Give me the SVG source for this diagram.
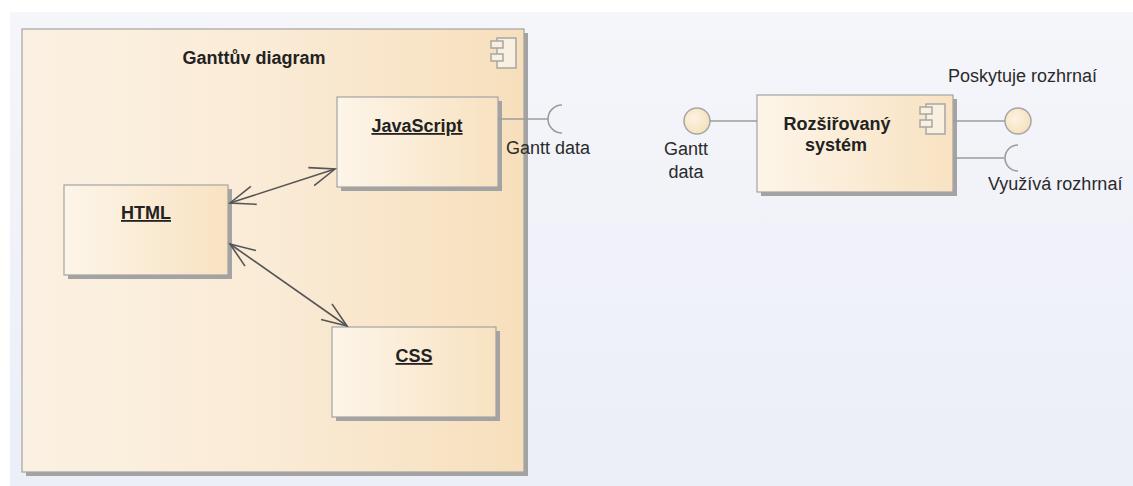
<svg xmlns="http://www.w3.org/2000/svg" width="1133" height="486" viewBox="0 0 1133 486">
  <defs>
    <linearGradient id="bg" x1="0" y1="0" x2="0" y2="1">
      <stop offset="0" stop-color="#f5f6fa"/>
      <stop offset="1" stop-color="#eceef8"/>
    </linearGradient>
    <linearGradient id="outerFill" x1="0" y1="0" x2="1" y2="0">
      <stop offset="0" stop-color="#fbf1e2"/>
      <stop offset="0.5" stop-color="#faebd6"/>
      <stop offset="1" stop-color="#f7dfbc"/>
    </linearGradient>
    <linearGradient id="partFill" x1="0" y1="0" x2="1" y2="0">
      <stop offset="0" stop-color="#fdf5e9"/>
      <stop offset="1" stop-color="#f8e2c1"/>
    </linearGradient>
    <radialGradient id="ballFill" cx="0.4" cy="0.4" r="0.7">
      <stop offset="0" stop-color="#fdf3e2"/>
      <stop offset="1" stop-color="#f5deb8"/>
    </radialGradient>
    <marker id="open" markerWidth="30" markerHeight="24" refX="28" refY="12" orient="auto-start-reverse" markerUnits="userSpaceOnUse" overflow="visible">
      <path d="M3,2.5 L28,12 L3,21.5" fill="none" stroke="#555" stroke-width="1.6"/>
    </marker>
    <!-- UML component stereotype icon, anchored at its top-right corner -->
    <g id="compIcon" fill="none" stroke="#a6a6a6" stroke-width="1.5">
      <rect x="-19" y="0" width="19" height="30" fill="#faf0df"/>
      <rect x="-25" y="3" width="12" height="7" fill="#faf0df"/>
      <rect x="-25" y="16" width="12" height="7" fill="#faf0df"/>
    </g>
  </defs>
  <style>
    .shadow { fill: #a3a3a3; }
    .box { stroke: #a3a3a3; stroke-width: 1.2; }
    .title { font-family: "Liberation Sans", Arial, sans-serif; font-size: 18px; font-weight: bold; fill: #222; }
    .part { font-family: "Liberation Sans", Arial, sans-serif; font-size: 18px; font-weight: bold; fill: #222; text-decoration: underline; }
    .label { font-family: "Liberation Sans", Arial, sans-serif; font-size: 18px; fill: #2a2a2a; }
    .iface { fill: none; stroke: #9c9c9c; stroke-width: 1.6; }
    .assoc { fill: none; stroke: #555; stroke-width: 1.6; }
  </style>

  <!-- canvas -->
  <rect x="0" y="0" width="1133" height="486" fill="#ffffff"/>
  <rect x="10" y="12" width="1123" height="474" fill="url(#bg)"/>

  <!-- Ganttův diagram component -->
  <g id="gantt-diagram">
    <rect class="shadow" x="26" y="33" width="502" height="443"/>
    <rect class="box" x="22" y="29" width="502" height="443" fill="url(#outerFill)"/>
    <use href="#compIcon" x="516" y="38"/>
    <text class="title" x="254" y="64" text-anchor="middle">Ganttův diagram</text>
  </g>

  <g id="javascript">
    <rect class="shadow" x="341" y="101" width="161" height="90"/>
    <rect class="box" x="337" y="97" width="161" height="90" fill="url(#partFill)"/>
    <text class="part" x="417" y="132" text-anchor="middle">JavaScript</text>
  </g>

  <g id="html">
    <rect class="shadow" x="68" y="189" width="164" height="90"/>
    <rect class="box" x="64" y="185" width="164" height="90" fill="url(#partFill)"/>
    <text class="part" x="146" y="219" text-anchor="middle">HTML</text>
  </g>

  <g id="css">
    <rect class="shadow" x="336" y="331" width="164" height="90"/>
    <rect class="box" x="332" y="327" width="164" height="90" fill="url(#partFill)"/>
    <text class="part" x="414" y="362" text-anchor="middle">CSS</text>
  </g>

  <!-- Rozšiřovaný systém component -->
  <g id="extended-system">
    <rect class="shadow" x="761" y="99" width="196" height="97"/>
    <rect class="box" x="757" y="95" width="196" height="97" fill="url(#partFill)"/>
    <use href="#compIcon" x="945" y="104"/>
    <text class="title" x="837" y="130" text-anchor="middle">Rozšiřovaný</text>
    <text class="title" x="836" y="151" text-anchor="middle">systém</text>
  </g>

  <!-- interfaces -->
  <g id="gantt-data-required">
    <text class="label" x="506" y="154">Gantt data</text>
  </g>
  <g id="gantt-data-provided">
    <circle cx="697" cy="121" r="13" fill="url(#ballFill)" stroke="#a6a6a6" stroke-width="1.5"/>
    <text class="label" x="686" y="155" text-anchor="middle">Gantt</text>
    <text class="label" x="686" y="178" text-anchor="middle">data</text>
  </g>
  <g id="provided-interface">
    <circle cx="1018" cy="121" r="13" fill="url(#ballFill)" stroke="#a6a6a6" stroke-width="1.5"/>
    <text class="label" x="948" y="82">Poskytuje rozhrnaí</text>
  </g>
  <g id="required-interface">
    <text class="label" x="988" y="190">Využívá rozhrnaí</text>
  </g>

  <!-- connectors -->
  <g id="connectors">
    <path class="iface" d="M498,119 H548"/>
    <path class="iface" d="M562,105 A14,14 0 0 0 562,133"/>
    <path class="iface" d="M710,121 H757"/>
    <path class="iface" d="M953,121 H1005"/>
    <path class="iface" d="M953,158 H1004"/>
    <path class="iface" d="M1018,145 A13,13 0 0 0 1018,171"/>
    <path class="assoc" d="M230,203 L335,169" marker-start="url(#open)" marker-end="url(#open)"/>
    <path class="assoc" d="M230,244 L347,326" marker-start="url(#open)" marker-end="url(#open)"/>
  </g>
</svg>
